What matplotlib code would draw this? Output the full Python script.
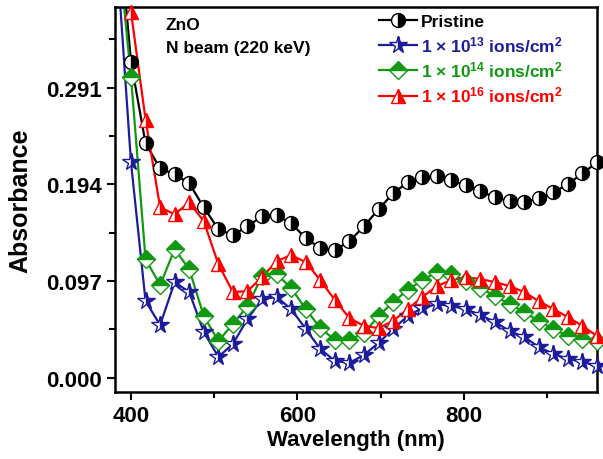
import numpy as np
import matplotlib.pyplot as plt
from matplotlib.ticker import MultipleLocator, FormatStrFormatter

plt.rcParams['font.family'] = 'Liberation Sans'
plt.rcParams['font.weight'] = 'bold'
plt.rcParams['mathtext.fontset'] = 'custom'
plt.rcParams['mathtext.rm'] = 'Liberation Sans:bold'
plt.rcParams['mathtext.bf'] = 'Liberation Sans:bold'
plt.rcParams['mathtext.default'] = 'bf'

# Longitudes de onda (nm); el primer punto queda fuera del recuadro
wavelength = [382.5, 400, 417.5, 435, 452.5, 470, 487.5, 505, 522.5, 540, 557.5,
              575, 592.5, 610, 627.5, 645, 662.5, 680, 697.5, 715, 732.5,
              750, 767.5, 785, 802.5, 820, 837.5, 855, 872.5, 890, 907.5,
              925, 942.5, 960]

pristine = [0.48, 0.317, 0.235, 0.210, 0.204, 0.195, 0.171, 0.149, 0.143, 0.152,
            0.162, 0.163, 0.155, 0.140, 0.130, 0.128, 0.137, 0.152, 0.169,
            0.185, 0.196, 0.201, 0.202, 0.198, 0.193, 0.187, 0.181, 0.177,
            0.176, 0.180, 0.186, 0.194, 0.205, 0.216]

dosis_13 = [0.43, 0.216, 0.077, 0.053, 0.096, 0.086, 0.046, 0.021, 0.034, 0.059,
            0.079, 0.081, 0.069, 0.049, 0.029, 0.017, 0.015, 0.023, 0.035,
            0.049, 0.062, 0.070, 0.074, 0.072, 0.069, 0.063, 0.056, 0.047,
            0.041, 0.031, 0.024, 0.019, 0.016, 0.012]

dosis_14 = [0.45, 0.302, 0.119, 0.093, 0.129, 0.109, 0.062, 0.037, 0.054, 0.072,
            0.102, 0.104, 0.090, 0.069, 0.050, 0.038, 0.038, 0.045, 0.062,
            0.076, 0.088, 0.098, 0.106, 0.104, 0.097, 0.090, 0.082, 0.074,
            0.066, 0.057, 0.049, 0.042, 0.039, 0.037]

dosis_16 = [0.50, 0.367, 0.259, 0.171, 0.164, 0.176, 0.157, 0.114, 0.086, 0.087,
            0.101, 0.117, 0.123, 0.116, 0.098, 0.078, 0.060, 0.052, 0.050,
            0.057, 0.069, 0.081, 0.092, 0.098, 0.101, 0.099, 0.096, 0.092,
            0.086, 0.077, 0.069, 0.061, 0.052, 0.042]

etiquetas = ['Pristine',
             r'1 $\times$ 10$^{13}$ ions/cm$^{2}$',
             r'1 $\times$ 10$^{14}$ ions/cm$^{2}$',
             r'1 $\times$ 10$^{16}$ ions/cm$^{2}$']

yticks = [0.000, 0.097, 0.194, 0.291]

series = [pristine, dosis_13, dosis_14, dosis_16]
colores = ['black', '#1c1c9c', '#119911', '#ff0000']
marcadores = ['o', '*', 'D', '^']
tamanos = [10, 13, 9, 10]
relleno = ['right', 'right', 'top', 'right']

fig = plt.figure(figsize=(6.03, 4.60), dpi=100)
ax = fig.add_axes([0.191, 0.146, 0.799, 0.837])

handles = []
for datos, c, m, s, f in zip(series, colores, marcadores, tamanos, relleno):
    # linea recortada al recuadro
    ax.plot(wavelength, datos, color=c, linewidth=1.6, zorder=2)
    # marcadores sin recortar (solo desde 400 nm)
    ax.plot(wavelength[1:], datos[1:], linestyle='none', marker=m,
            markersize=s, fillstyle=f, markerfacecolor=c,
            markerfacecoloralt='white', markeredgecolor=c,
            markeredgewidth=1.0, clip_on=False, zorder=3)
    h, = ax.plot([], [], color=c, linewidth=1.6, marker=m, markersize=s,
                 fillstyle=f, markerfacecolor=c, markerfacecoloralt='white',
                 markeredgecolor=c, markeredgewidth=1.0)
    handles.append(h)

leg = ax.legend(handles, etiquetas, loc='upper left',
                bbox_to_anchor=(0.54, 0.99), frameon=False, fontsize=12.5,
                handlelength=2.2, handletextpad=0.25, labelspacing=0.3,
                borderaxespad=0, borderpad=0.2)
for txt, c in zip(leg.get_texts(), colores):
    txt.set_color(c)

ax.text(0.105, 0.955, 'ZnO', transform=ax.transAxes, fontsize=12.5,
        fontweight='bold', va='center')
ax.text(0.105, 0.895, 'N beam (220 keV)', transform=ax.transAxes,
        fontsize=12.5, fontweight='bold', va='center')

ax.set_xlim(381, 960)
ax.set_ylim(-0.014, 0.372)
ax.set_yticks(yticks)
ax.yaxis.set_major_formatter(FormatStrFormatter('%.3f'))
ax.yaxis.set_minor_locator(MultipleLocator(0.0485))
ax.xaxis.set_major_locator(MultipleLocator(200))
ax.xaxis.set_minor_locator(MultipleLocator(100))

ax.tick_params(which='major', direction='out', length=6, width=1.5,
               labelsize=16, top=False, right=False)
ax.tick_params(which='minor', direction='out', length=4, width=1.5,
               top=False, right=False)
for sp in ax.spines.values():
    sp.set_linewidth(1.8)

ax.set_xlabel('Wavelength (nm)', fontsize=16, fontweight='bold', labelpad=2)
ax.set_ylabel('Absorbance', fontsize=18, fontweight='bold', labelpad=10)

plt.savefig('out.png', dpi=100)
